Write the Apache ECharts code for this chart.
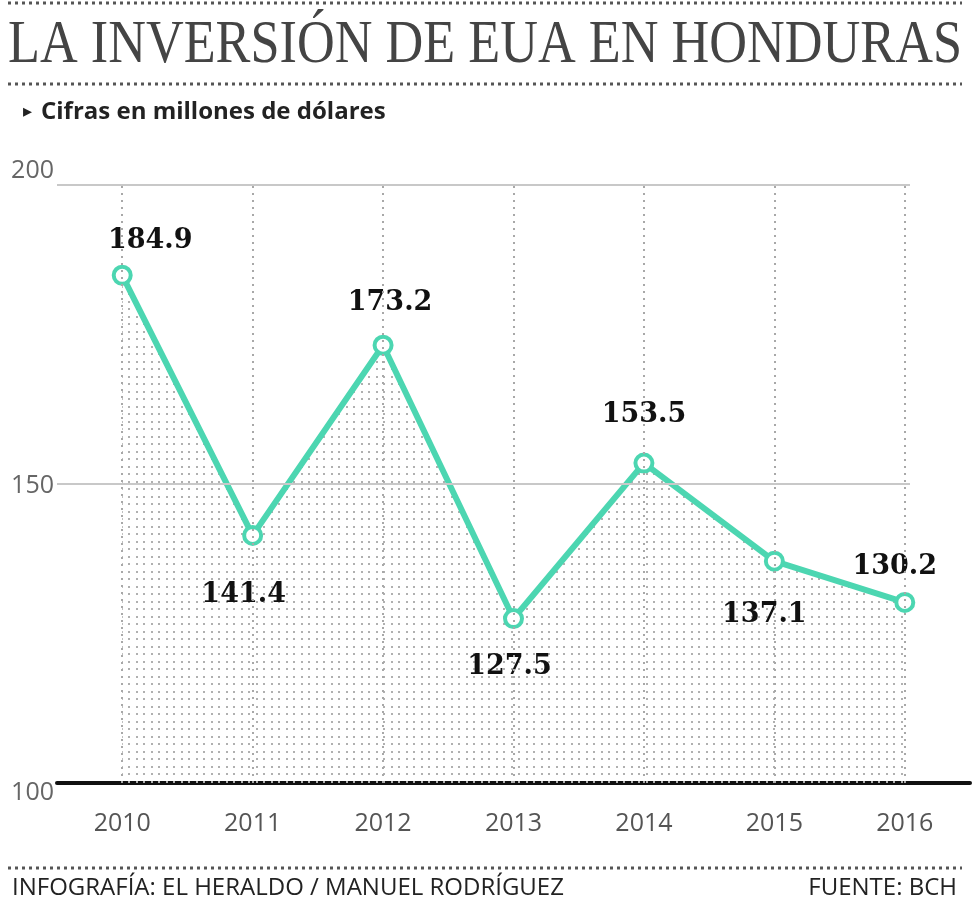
<!DOCTYPE html>
<html>
<head>
<meta charset="utf-8">
<script src="https://cdn.jsdelivr.net/npm/echarts@6/dist/echarts.min.js"></script>
<style>
html,body{margin:0;padding:0;background:#fff;}
#c{width:972px;height:900px;}
</style>
</head>
<body>
<div id="c"></div>
<script>
var categories = ['2010','2011','2012','2013','2014','2015','2016'];
var values = [184.9, 141.4, 173.2, 127.5, 153.5, 137.1, 130.2];
var labelPositions = ['top','bottom','top','bottom','top','bottom','top'];
var yTicks = [100, 150, 200];
var titleText = 'LA INVERSIÓN DE EUA EN HONDURAS';

var chart = echarts.init(document.getElementById('c'), null, {renderer: 'canvas'});

// dot pattern for area fill
var pat = document.createElement('canvas');
pat.width = 15; pat.height = 15;
var pctx = pat.getContext('2d');
pctx.fillStyle = '#b0b0b0';
[[1,1],[8,1],[1,8],[8,8]].forEach(function(p){ pctx.fillRect(p[0], p[1], 2, 2); });

// measure title to fit width
var titleFont = '62px "Liberation Serif"';
var mc = document.createElement('canvas').getContext('2d');
mc.font = titleFont;
var tw = mc.measureText(titleText).width;
var titleScale = 954 / tw;

var lineColor = '#4cd6b1';
var labelDist = [10, 36, 18, 24, 24, 30, 11];
var labelOffsetX = [28, -9, 7, -4, 0, -10, -10];

var seriesData = values.map(function(v, i){
  return {
    value: v,
    label: {
      position: labelPositions[i],
      distance: labelDist[i],
      offset: [labelOffsetX[i], 0]
    }
  };
});

var sansFont = 'Open Sans';

var option = {
  backgroundColor: '#fff',
  animation: false,
  title: [
    {
      text: '▸',
      left: 18, top: 98,
      textStyle: {fontFamily: 'DejaVu Sans', fontWeight: 'normal', fontSize: 18, color: '#222'}
    },
    {
      text: 'Cifras en millones de dólares',
      left: 36, top: 95,
      textStyle: {fontFamily: sansFont, fontWeight: 'bold', fontSize: 24, color: '#222'}
    },
    {
      text: 'INFOGRAFÍA: EL HERALDO / MANUEL RODRÍGUEZ',
      left: 7, top: 871,
      textStyle: {fontFamily: sansFont, fontWeight: 'normal', fontSize: 24, color: '#222'}
    },
    {
      text: 'FUENTE: BCH',
      right: 10, top: 871,
      textStyle: {fontFamily: sansFont, fontWeight: 'normal', fontSize: 24, color: '#222'}
    }
  ],
  graphic: [
    {type: 'text', x: 8, y: 46, scaleX: titleScale, scaleY: 1,
      style: {text: titleText, font: titleFont, fill: '#444', textVerticalAlign: 'middle', verticalAlign: 'middle'}},
    {type: 'line', shape: {x1: 8, y1: 3, x2: 962, y2: 3}, style: {stroke: '#555', lineWidth: 3, lineDash: [3, 4]}},
    {type: 'line', shape: {x1: 8, y1: 84, x2: 962, y2: 84}, style: {stroke: '#555', lineWidth: 3, lineDash: [3, 4]}},
    {type: 'line', shape: {x1: 8, y1: 868, x2: 962, y2: 868}, style: {stroke: '#555', lineWidth: 3, lineDash: [3, 4]}}
  ],
  grid: {left: 57, right: 2, top: 185, bottom: 117, containLabel: false},
  xAxis: [
    {
      type: 'category',
      data: categories,
      boundaryGap: true,
      axisLine: {show: true, lineStyle: {color: '#111', width: 4}},
      axisTick: {show: false},
      splitLine: {show: false},
      axisLabel: {fontFamily: sansFont, fontSize: 25, color: '#555', margin: 28}
    },
    {
      type: 'value',
      min: -0.5, max: 6.5,
      show: false,
      splitLine: {show: false}
    }
  ],
  yAxis: {
    type: 'value',
    min: yTicks[0], max: yTicks[yTicks.length - 1], interval: 50,
    axisLine: {show: false},
    axisTick: {show: false},
    splitLine: {show: false},
    axisLabel: {fontFamily: sansFont, fontSize: 25, color: '#666', margin: 3,
      formatter: function(v){
        if (v === 200) return '{t|' + v + '}';
        if (v === 100) return '{b|' + v + '}';
        return '{m|' + v + '}';
      },
      rich: {
        t: {fontFamily: sansFont, fontSize: 25, color: '#666', padding: [0, 0, 28, 0]},
        m: {fontFamily: sansFont, fontSize: 25, color: '#666', padding: [4, 0, 0, 0]},
        b: {fontFamily: sansFont, fontSize: 25, color: '#666', padding: [20, 0, 0, 0]}
      }
    }
  },
  series: [
    {
      type: 'line',
      xAxisIndex: 1,
      data: [],
      silent: true,
      z: 1,
      markLine: {
        silent: true,
        symbol: 'none',
        label: {show: false},
        data: [
          [{coord: [-0.5, 150], lineStyle: {color: '#c8c8c8', width: 2, type: 'solid'}},
           {coord: [6.04, 150]}],
          [{coord: [-0.5, 200], lineStyle: {color: '#c8c8c8', width: 2, type: 'solid'}},
           {coord: [6.04, 200]}]
        ].concat(categories.map(function(c, i){
          return [
            {coord: [i, yTicks[0]], lineStyle: {color: '#a8a8a8', width: 2, type: [2, 5]}},
            {coord: [i, yTicks[yTicks.length - 1]]}
          ];
        }))
      }
    },
    {
      type: 'line',
      data: seriesData,
      z: 3,
      symbol: 'circle',
      symbolSize: 17,
      showAllSymbol: true,
      lineStyle: {color: lineColor, width: 6},
      itemStyle: {color: '#fff', borderColor: lineColor, borderWidth: 4},
      areaStyle: {color: {image: pat, repeat: 'repeat'}, opacity: 1, origin: 'start'},
      label: {
        show: true,
        fontFamily: 'DejaVu Serif',
        fontWeight: 'bold',
        fontSize: 27,
        color: '#111'
      }
    }
  ]
};
chart.setOption(option);
</script>
</body>
</html>
